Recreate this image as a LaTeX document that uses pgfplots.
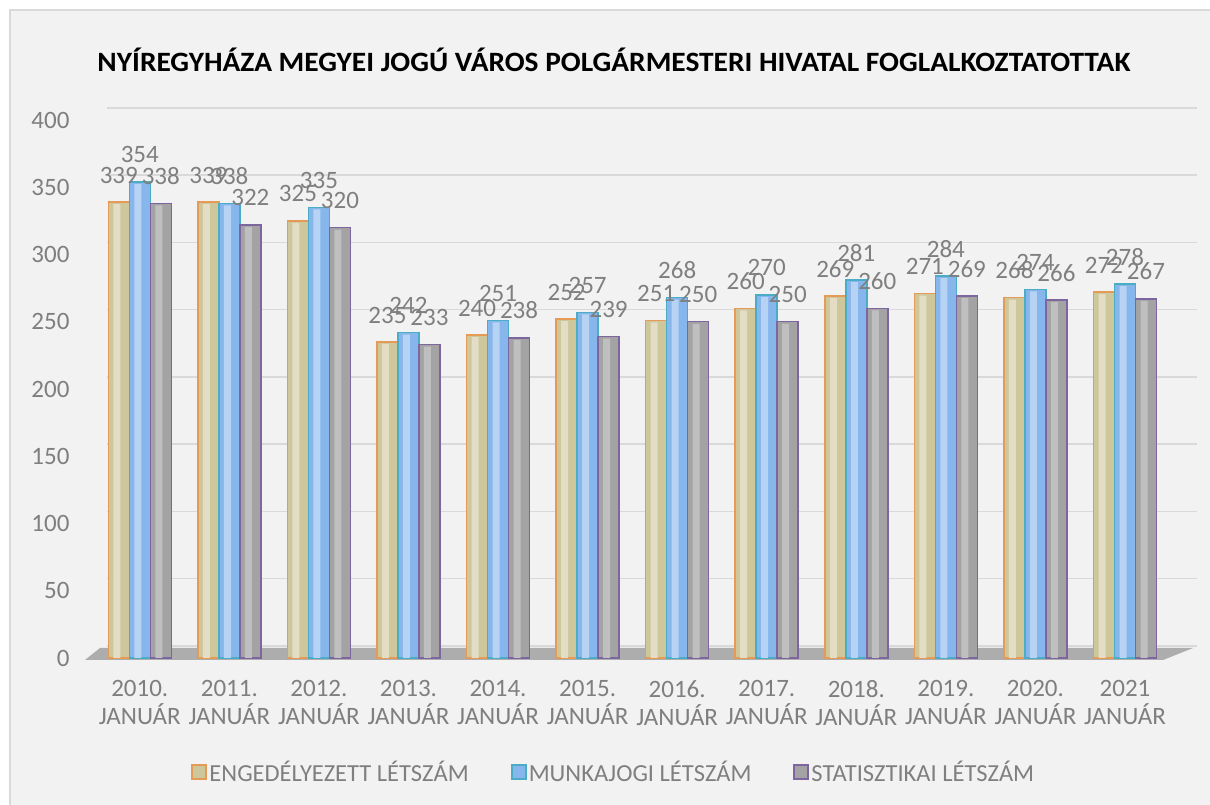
\documentclass[border=0pt]{standalone}
\usepackage{pgfplots}
\usepackage{pgfplotstable}
\pgfplotsset{compat=1.18}
\usepackage{fontspec}
\setmainfont{Carlito}
\definecolor{bgc}{HTML}{F2F2F2}
\definecolor{gridc}{HTML}{D9D9D9}
\definecolor{txtc}{HTML}{7F7F7F}
\definecolor{tanc}{HTML}{CFC79C}
\definecolor{tanedge}{HTML}{E59A55}
\definecolor{bluec}{HTML}{86B6EC}
\definecolor{blueedge}{HTML}{4BACC6}
\definecolor{grayc}{HTML}{A3A3A3}
\definecolor{grayedge}{HTML}{7D65A0}

\pgfplotstableread{
x eng mun sta
0 339 354 338
1 339 338 322
2 325 335 320
3 235 242 233
4 240 251 238
5 252 257 239
6 251 268 250
7 260 270 250
8 269 281 260
9 271 284 269
10 268 274 266
11 272 278 267
}\datatable

\begin{document}
\begin{tikzpicture}[x=1pt,y=1pt]
\path[use as bounding box, fill=white] (0,0) rectangle (1210,805);
\draw[fill=bgc, draw=black!15, line width=1.5pt] (10,-5) rectangle (1215,795);
\node[font=\bfseries\fontsize{28}{32}\selectfont] at (614,745)
  {\scalebox{1.05}[1]{NYÍREGYHÁZA MEGYEI JOGÚ VÁROS POLGÁRMESTERI HIVATAL FOGLALKOZTATOTTAK}};
% floor
\fill[black!32] (85,145) -- (1163,145) -- (1193,157) -- (100,157) -- cycle;
\begin{axis}[
    at={(95pt,147pt)}, anchor=south west,
    scale only axis,
    width=1090pt, height=538pt,
    ybar, bar width=21pt,
    xmin=-0.5, xmax=11.67,
    ymin=0, ymax=400,
    clip=false,
    ytick={0,50,...,400},
    xtick={0,...,11},
    xticklabels={{2010.\\JANUÁR},{2011.\\JANUÁR},{2012.\\JANUÁR},{2013.\\JANUÁR},{2014.\\JANUÁR},{2015.\\JANUÁR},{2016.\\JANUÁR},{2017.\\JANUÁR},{2018.\\JANUÁR},{2019.\\JANUÁR},{2020.\\JANUÁR},{2021\\JANUÁR}},
    xticklabel style={align=center, font=\fontsize{25}{28}\selectfont, text=txtc, yshift=-19pt},
    yticklabel style={font=\fontsize{25}{27}\selectfont, text=txtc, xshift=-22pt},
    /pgf/number format/assume math mode=true,
    axis line style={draw=none},
    major tick length=0pt,
    ymajorgrids, grid style={gridc, line width=1.5pt, xshift=12pt, yshift=12pt},
    every node near coord/.append style={font=\fontsize{25}{27}\selectfont, text=txtc, inner sep=1pt, yshift=17pt},
    legend columns=3,
    legend style={at={(0.476,-0.2126)}, anchor=center, draw=none, fill=none,
      font=\fontsize{24.5}{27}\selectfont, text=txtc,
      /tikz/every even column/.append style={column sep=40pt}},
    legend image code/.code={\draw[#1, line width=2pt] (0pt,-7pt) rectangle (14pt,7pt);},
]
\addplot[bar shift=-21pt, draw=tanedge, line width=1.5pt, fill=tanc, nodes near coords] table[x=x, y=eng] {\datatable};
\addlegendentry{ENGEDÉLYEZETT LÉTSZÁM}
\addplot[bar shift=0pt, draw=blueedge, line width=1.5pt, fill=bluec, nodes near coords] table[x=x, y=mun] {\datatable};
\addlegendentry{MUNKAJOGI LÉTSZÁM}
\addplot[bar shift=21pt, draw=grayedge, line width=1.5pt, fill=grayc, nodes near coords] table[x=x, y=sta] {\datatable};
\addlegendentry{STATISZTIKAI LÉTSZÁM}
% highlights for a rounded look
\addplot[forget plot, bar shift=-23pt, bar width=7pt, draw=none, fill=tanc!60!white] table[x=x, y expr=\thisrow{eng}-1.5] {\datatable};
\addplot[forget plot, bar shift=-2pt, bar width=7pt, draw=none, fill=bluec!60!white] table[x=x, y expr=\thisrow{mun}-1.5] {\datatable};
\addplot[forget plot, bar shift=19pt, bar width=7pt, draw=none, fill=grayc!70!white] table[x=x, y expr=\thisrow{sta}-1.5] {\datatable};
\end{axis}
\end{tikzpicture}
\end{document}
